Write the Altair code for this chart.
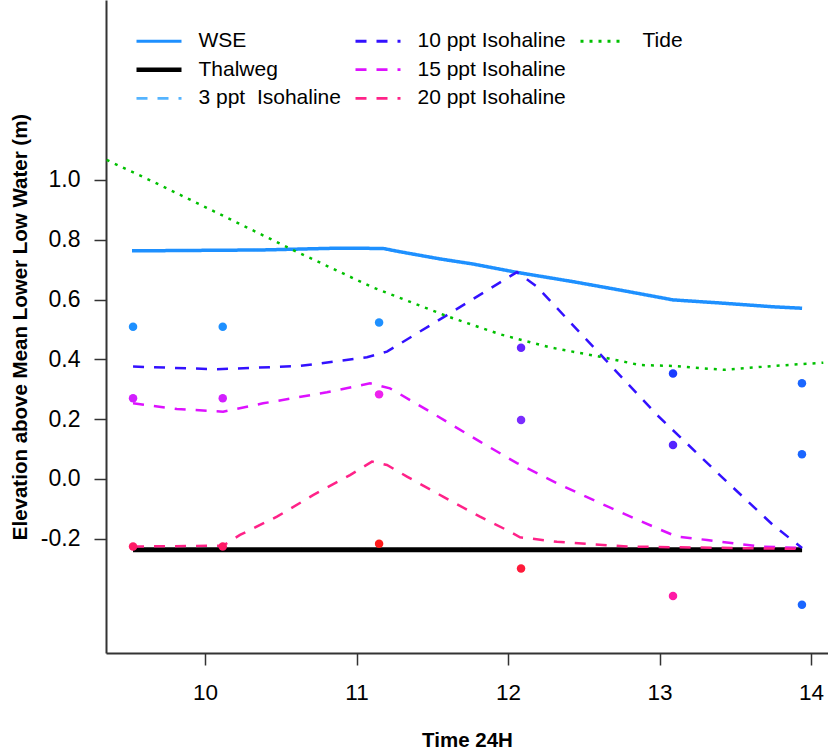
import altair as alt
import pandas as pd

# ---- water surface elevation (WSE) ----
wse_time = [9.518, 10.376, 10.878, 11.175, 11.287, 11.551, 11.769, 12.059,
            12.429, 12.759, 13.089, 13.419, 13.749, 13.941]
wse_elev = [0.763, 0.766, 0.772, 0.771, 0.760, 0.736, 0.719, 0.691,
            0.660, 0.630, 0.599, 0.588, 0.576, 0.571]

# ---- channel bottom (thalweg) ----
thalweg_time = [9.525, 10.117, 11.149, 12.086, 13.089, 13.941]
thalweg_elev = [-0.237, -0.237, -0.237, -0.237, -0.237, -0.237]

# ---- isohaline elevations ----
iso10_time = [9.525, 10.079, 10.627, 11.069, 11.201, 11.597, 12.059, 12.191,
              12.984, 13.419, 13.749, 13.941]
iso10_elev = [0.376, 0.367, 0.378, 0.407, 0.426, 0.548, 0.692, 0.643,
              0.214, 0.003, -0.154, -0.231]

iso15_time = [9.525, 9.815, 10.119, 10.383, 10.805, 11.089, 11.221, 11.465,
              11.815, 12.059, 12.323, 12.587, 12.984, 13.116, 13.314, 13.663, 13.941]
iso15_elev = [0.253, 0.234, 0.225, 0.253, 0.290, 0.320, 0.303, 0.231,
              0.125, 0.053, -0.014, -0.076, -0.165, -0.193, -0.204, -0.226, -0.231]

iso20_time = [9.525, 10.119, 10.231, 10.475, 10.713, 10.957, 11.102, 11.201,
              11.333, 11.571, 11.815, 11.993, 12.079, 12.323, 12.785, 13.941]
iso20_elev = [-0.226, -0.223, -0.187, -0.126, -0.054, 0.013, 0.058, 0.047,
              0.008, -0.059, -0.126, -0.171, -0.195, -0.210, -0.226, -0.234]

# ---- tide ----
tide_time = [9.351, 9.659, 10.165, 10.572, 11.111, 11.595, 11.947, 12.277,
             12.607, 12.871, 13.091, 13.421, 13.751, 14.081]
tide_elev = [1.067, 0.994, 0.869, 0.768, 0.640, 0.545, 0.484, 0.440,
             0.409, 0.381, 0.378, 0.365, 0.378, 0.389]

# ---- observed salinity points ----
obs_time = [9.525, 10.117, 11.149, 12.086, 13.089, 13.940] * 3
obs_elev = [0.509, 0.509, 0.523, 0.439, 0.353, 0.320,
            0.270, 0.270, 0.283, 0.197, 0.114, 0.083,
            -0.226, -0.226, -0.217, -0.299, -0.391, -0.421]
obs_color = ["#1e90ff", "#1e90ff", "#1e90ff", "#6424ff", "#1a3cff", "#1a66ff",
             "#d21eff", "#d21eff", "#ee22ee", "#7b2cff", "#5524ff", "#1a66ff",
             "#ff1a66", "#ff1a66", "#ff1a1a", "#ff1a3a", "#ff1aa6", "#1a66ff"]

# legend entries, three per column; BLANK pads the short last column
THREE = "\u00a03 ppt\u00a0\u00a0Isohaline"
BLANK = "\u00a0"
series_order = ["WSE", "Thalweg", THREE,
                "10 ppt Isohaline", "15 ppt Isohaline", "20 ppt Isohaline",
                "Tide", BLANK]
series_color = ["#1e90ff", "#000000", "#55b4ff",
                "#3311ff", "#dd11ff", "#ff2288",
                "#00c000", "rgba(0,0,0,0)"]
series_dash = [[1, 0], [1, 0], [11, 10],
               [11, 10], [11, 10], [11, 10],
               [3, 6], [1, 0]]
series_width = {"WSE": 3.5, "Thalweg": 5, "10 ppt Isohaline": 2.5,
                "15 ppt Isohaline": 2.5, "20 ppt Isohaline": 2.5, "Tide": 2.5}

rows = []
for name, ts, es in [("WSE", wse_time, wse_elev),
                     ("Thalweg", thalweg_time, thalweg_elev),
                     ("10 ppt Isohaline", iso10_time, iso10_elev),
                     ("15 ppt Isohaline", iso15_time, iso15_elev),
                     ("20 ppt Isohaline", iso20_time, iso20_elev),
                     ("Tide", tide_time, tide_elev)]:
    for t, e in zip(ts, es):
        rows.append({"series": name, "time": t, "elev": e, "lw": series_width[name]})
lines_df = pd.DataFrame(rows)

obs_df = pd.DataFrame({"time": obs_time, "elev": obs_elev, "pc": obs_color})

FONT = "Liberation Sans"
x_scale = alt.Scale(domain=[9.3465, 14.112], nice=False, zero=False)
y_scale = alt.Scale(domain=[-0.582, 1.602], nice=False, zero=False)

x_axis = alt.Axis(values=[10, 11, 12, 13, 14], format="d", title="Time 24H",
                  grid=False, domainColor="#333", domainWidth=2,
                  tickColor="#333", tickWidth=1.5, tickSize=12,
                  labelFont=FONT, labelFontSize=22.5, labelColor="black",
                  labelPadding=16, titleFont=FONT, titleFontSize=20.5,
                  titleFontWeight="bold", titleColor="black", titlePadding=27)
y_axis = alt.Axis(values=[-0.2, 0.0, 0.2, 0.4, 0.6, 0.8, 1.0],
                  labelExpr="replace(format(datum.value, '.1f'), '\u2212', '-')",
                  title="Elevation above Mean Lower Low Water (m)",
                  grid=False, domainColor="#333", domainWidth=2,
                  tickColor="#333", tickWidth=1.5, tickSize=12,
                  labelFont=FONT, labelFontSize=23, labelColor="black",
                  labelPadding=14, titleFont=FONT, titleFontSize=20.5,
                  titleFontWeight="bold", titleColor="black", titlePadding=10)

legend = alt.Legend(title=None, orient="none", legendX=42.5, legendY=30.5,
                    direction="vertical", columns=3, columnPadding=8, rowPadding=6.7,
                    symbolType="stroke", symbolSize=2025, symbolOffset=0,
                    symbolStrokeWidth={"expr": "datum.value == 'Thalweg' ? 4.5 : 2.8"},
                    labelFont=FONT, labelFontSize=21, labelColor="black",
                    labelOffset=29, labelLimit=400, padding=0)

lines = alt.Chart(lines_df).mark_line(clip=True).encode(
    x=alt.X("time:Q", scale=x_scale, axis=x_axis),
    y=alt.Y("elev:Q", scale=y_scale, axis=y_axis),
    stroke=alt.Stroke("series:N", scale=alt.Scale(domain=series_order, range=series_color),
                      legend=legend),
    strokeDash=alt.StrokeDash("series:N", scale=alt.Scale(domain=series_order, range=series_dash),
                              legend=legend),
    strokeWidth=alt.StrokeWidth("lw:Q", scale=None),
    detail="series:N",
)

points = alt.Chart(obs_df).mark_circle(size=72, opacity=1, clip=True).encode(
    x=alt.X("time:Q", scale=x_scale),
    y=alt.Y("elev:Q", scale=y_scale),
    fill=alt.Fill("pc:N", scale=None),
)

chart = alt.layer(lines, points).properties(
    width=722, height=653,
    autosize="none",
    padding={"left": 106, "top": 0, "right": 0, "bottom": 102},
    background="white",
).configure_view(stroke=None)

chart.save("out.html", embed_options={"renderer": "svg", "actions": False})
